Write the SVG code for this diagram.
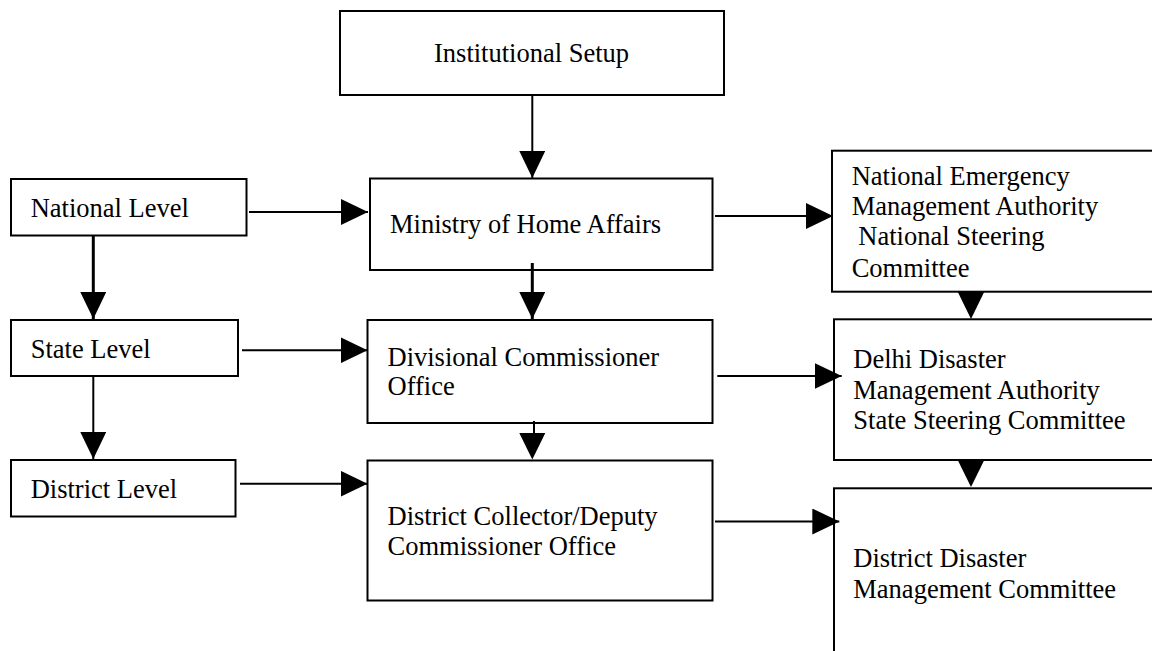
<svg xmlns="http://www.w3.org/2000/svg" width="1152" height="651" viewBox="0 0 1152 651">
<style>
.box{fill:#fff;stroke:#000;stroke-width:2}
.t{font-family:"Liberation Serif","Times New Roman",serif;font-size:26.5px;fill:#000}
.c{fill:none;stroke:#000;stroke-width:2}
.thick{stroke-width:3}
.head{fill:#000;stroke:none}
</style>
<defs>
<marker id="arr" markerUnits="userSpaceOnUse" markerWidth="27" markerHeight="26" refX="27" refY="13" orient="auto" viewBox="0 0 27 26">
<path d="M0,0 L27,13 L0,26 z" fill="#000"/>
</marker>
</defs>
<rect width="1152" height="651" fill="#fff"/>

<g id="institutional">
<rect class="box" x="340" y="11" width="384" height="84"/>
<text class="t" x="434" y="62">Institutional Setup</text>
</g>
<g id="ministry">
<rect class="box" x="370" y="178.5" width="342.5" height="91.5"/>
<text class="t" x="390" y="233">Ministry of Home Affairs</text>
</g>
<g id="divisional">
<rect class="box" x="367.5" y="320" width="345" height="103"/>
<text class="t" x="387.5" y="366">Divisional Commissioner</text>
<text class="t" x="387.5" y="395">Office</text>
</g>
<g id="collector">
<rect class="box" x="367.5" y="460.5" width="345" height="140"/>
<text class="t" x="387.5" y="525">District Collector/Deputy</text>
<text class="t" x="387.5" y="555">Commissioner Office</text>
</g>
<g id="national">
<rect class="box" x="11" y="179" width="235.5" height="56.5"/>
<text class="t" x="30.7" y="216.7">National Level</text>
</g>
<g id="state">
<rect class="box" x="11" y="320" width="227" height="56"/>
<text class="t" x="30.7" y="357.7">State Level</text>
</g>
<g id="district">
<rect class="box" x="11" y="460" width="224.5" height="56.5"/>
<text class="t" x="30.7" y="498.3">District Level</text>
</g>
<g id="nema">
<rect class="box" x="832" y="150.7" width="340" height="141"/>
<text class="t" x="851.7" y="185">National Emergency</text>
<text class="t" x="851.7" y="215">Management Authority</text>
<text class="t" x="851.7" y="245"> <tspan x="858.3">National Steering</tspan></text>
<text class="t" x="851.7" y="276.7">Committee</text>
</g>
<g id="ddma">
<rect class="box" x="834" y="319.3" width="340" height="140.7"/>
<text class="t" x="853.3" y="368.3">Delhi Disaster</text>
<text class="t" x="853.3" y="399.3">Management Authority</text>
<text class="t" x="853.3" y="429.3">State Steering Committee</text>
</g>
<g id="ddmc">
<rect class="box" x="834" y="488.3" width="340" height="180"/>
<text class="t" x="853.3" y="567.3">District Disaster</text>
<text class="t" x="853.3" y="597.7">Management Committee</text>
</g>

<g id="connectors">
<path class="c" d="M532.3,95 L532.3,178" marker-end="url(#arr)"/>
<path class="c thick" d="M532.3,263 L532.3,319" marker-end="url(#arr)"/>
<path class="c" d="M534,421 L534,440"/>
<polygon class="head" points="519.3,433 545.3,433 532.3,459.5"/>
<path class="c thick" d="M93.3,235.5 L93.3,319" marker-end="url(#arr)"/>
<path class="c" d="M93.3,376 L93.3,459" marker-end="url(#arr)"/>
<path class="c" d="M249,212 L368,212" marker-end="url(#arr)"/>
<path class="c" d="M242,350.3 L367.5,350.3" marker-end="url(#arr)"/>
<path class="c" d="M240,483.7 L367.5,483.7" marker-end="url(#arr)"/>
<path class="c" d="M715,216 L833,216" marker-end="url(#arr)"/>
<path class="c" d="M717.3,376 L841.7,376" marker-end="url(#arr)"/>
<path class="c" d="M715,521.5 L839.3,521.5" marker-end="url(#arr)"/>
<polygon class="head" points="957.7,291.7 984.3,291.7 971,319"/>
<polygon class="head" points="957.7,460 984.3,460 971,487"/>
</g>
</svg>
